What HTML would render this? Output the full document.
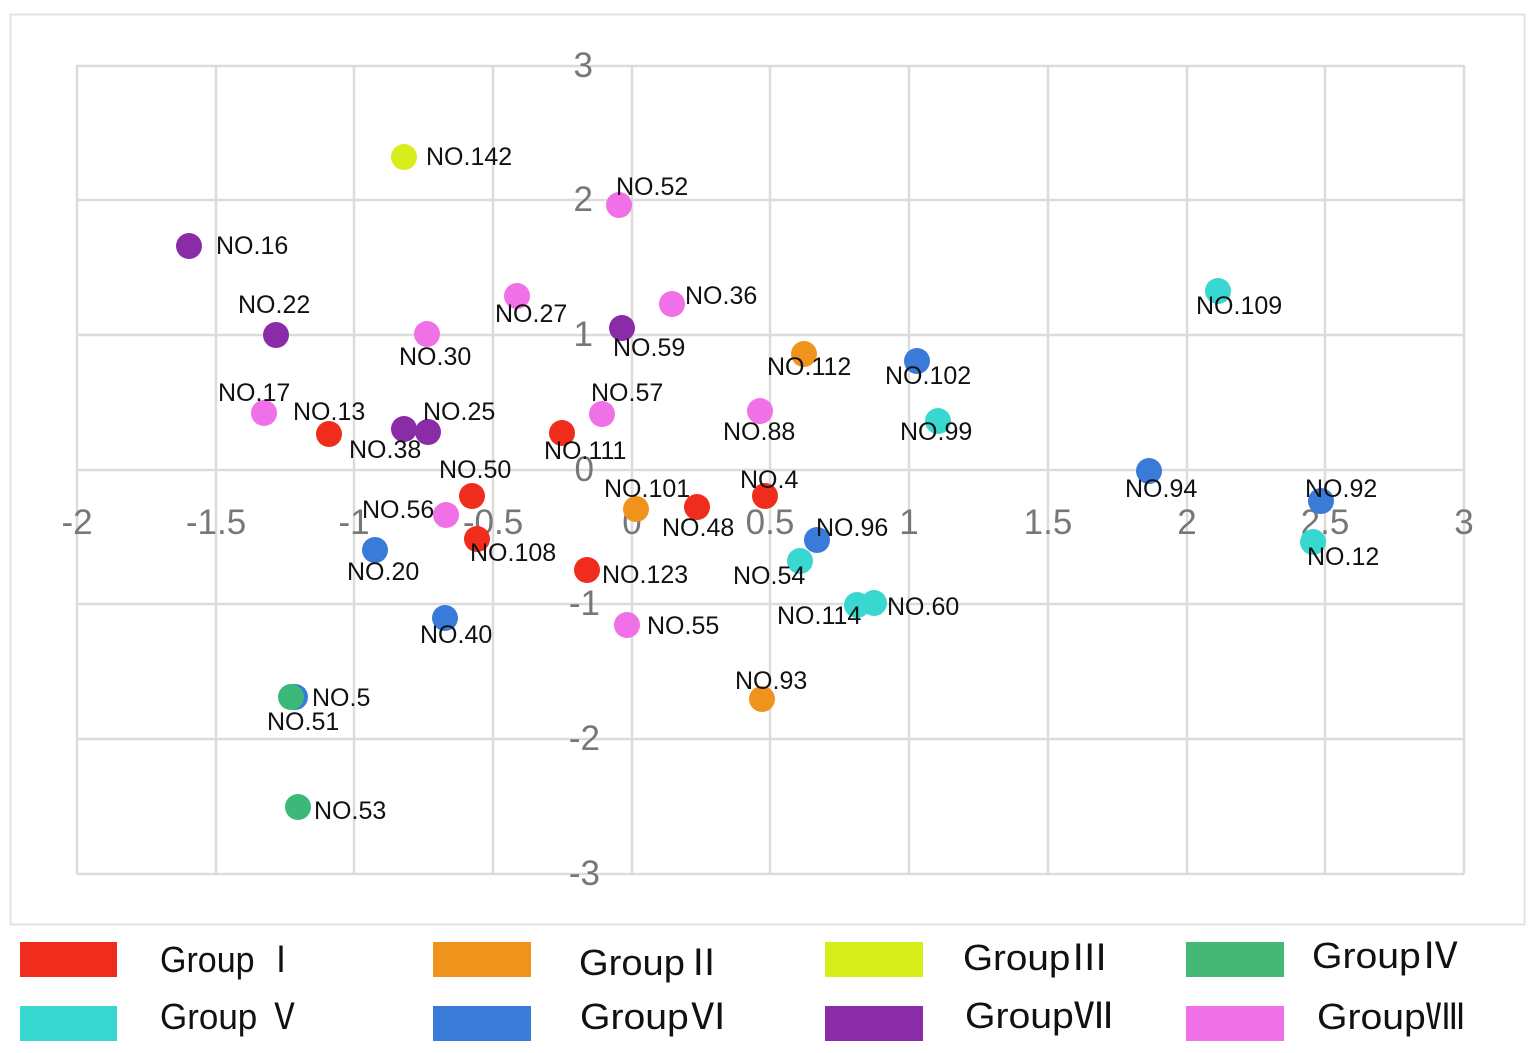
<!DOCTYPE html>
<html><head><meta charset="utf-8"><style>
html,body{margin:0;padding:0;background:#fff}
svg{display:block}
</style></head><body>
<svg width="1535" height="1053" xmlns="http://www.w3.org/2000/svg">
<rect x="10.5" y="14.5" width="1514" height="910" fill="#fff" stroke="#e2e2e2" stroke-width="2"/>
<g stroke="#dcdcdc" stroke-width="2.5">
<line x1="77" y1="65" x2="77" y2="874"/>
<line x1="216" y1="65" x2="216" y2="874"/>
<line x1="354" y1="65" x2="354" y2="874"/>
<line x1="493" y1="65" x2="493" y2="874"/>
<line x1="632" y1="65" x2="632" y2="874"/>
<line x1="770" y1="65" x2="770" y2="874"/>
<line x1="909" y1="65" x2="909" y2="874"/>
<line x1="1048" y1="65" x2="1048" y2="874"/>
<line x1="1187" y1="65" x2="1187" y2="874"/>
<line x1="1325" y1="65" x2="1325" y2="874"/>
<line x1="1464" y1="65" x2="1464" y2="874"/>
<line x1="77" y1="66" x2="1464" y2="66"/>
<line x1="77" y1="200" x2="1464" y2="200"/>
<line x1="77" y1="335" x2="1464" y2="335"/>
<line x1="77" y1="470" x2="1464" y2="470"/>
<line x1="77" y1="604" x2="1464" y2="604"/>
<line x1="77" y1="739" x2="1464" y2="739"/>
<line x1="77" y1="874" x2="1464" y2="874"/>
</g>
<g font-family="Liberation Sans, sans-serif" font-size="35" fill="#777" text-anchor="middle">
<text x="77" y="534">-2</text><text x="216" y="534">-1.5</text><text x="354" y="534">-1</text>
<text x="493" y="534">-0.5</text><text x="632" y="534">0</text><text x="770" y="534">0.5</text>
<text x="909" y="534">1</text><text x="1048" y="534">1.5</text><text x="1187" y="534">2</text>
<text x="1325" y="534">2.5</text><text x="1464" y="534">3</text>
</g>
<g font-family="Liberation Sans, sans-serif" font-size="35" fill="#777" text-anchor="end">
<text x="593" y="77">3</text><text x="593" y="211">2</text><text x="593" y="346">1</text>
<text x="594" y="481">0</text><text x="600" y="615">-1</text><text x="600" y="750">-2</text><text x="600" y="885">-3</text>
</g>
<g>
<circle cx="404" cy="157" r="13" fill="#d8ee1a"/>
<circle cx="619" cy="205" r="13" fill="#f070e8"/>
<circle cx="189" cy="246" r="13" fill="#8a2ca8"/>
<circle cx="276" cy="335" r="13" fill="#8a2ca8"/>
<circle cx="517" cy="296" r="13" fill="#f070e8"/>
<circle cx="672" cy="304" r="13" fill="#f070e8"/>
<circle cx="427" cy="334" r="13" fill="#f070e8"/>
<circle cx="622" cy="328" r="13" fill="#8a2ca8"/>
<circle cx="1218" cy="291" r="13" fill="#38d8d0"/>
<circle cx="804" cy="354" r="13" fill="#f0931c"/>
<circle cx="917" cy="361" r="13" fill="#3a7ad8"/>
<circle cx="264" cy="413" r="13" fill="#f070e8"/>
<circle cx="329" cy="434" r="13" fill="#f02c1c"/>
<circle cx="404" cy="429" r="13" fill="#8a2ca8"/>
<circle cx="428" cy="432" r="13" fill="#8a2ca8"/>
<circle cx="562" cy="433" r="13" fill="#f02c1c"/>
<circle cx="602" cy="414" r="13" fill="#f070e8"/>
<circle cx="760" cy="411" r="13" fill="#f070e8"/>
<circle cx="938" cy="421" r="13" fill="#38d8d0"/>
<circle cx="1149" cy="471" r="13" fill="#3a7ad8"/>
<circle cx="1321" cy="501" r="13" fill="#3a7ad8"/>
<circle cx="1313" cy="542" r="13" fill="#38d8d0"/>
<circle cx="472" cy="496" r="13" fill="#f02c1c"/>
<circle cx="636" cy="509" r="13" fill="#f0931c"/>
<circle cx="765" cy="496" r="13" fill="#f02c1c"/>
<circle cx="697" cy="507" r="13" fill="#f02c1c"/>
<circle cx="817" cy="540" r="13" fill="#3a7ad8"/>
<circle cx="446" cy="515" r="13" fill="#f070e8"/>
<circle cx="477" cy="539" r="13" fill="#f02c1c"/>
<circle cx="375" cy="550" r="13" fill="#3a7ad8"/>
<circle cx="587" cy="570" r="13" fill="#f02c1c"/>
<circle cx="800" cy="561" r="13" fill="#38d8d0"/>
<circle cx="857" cy="605" r="13" fill="#38d8d0"/>
<circle cx="874" cy="603" r="13" fill="#38d8d0"/>
<circle cx="445" cy="618" r="13" fill="#3a7ad8"/>
<circle cx="627" cy="625" r="13" fill="#f070e8"/>
<circle cx="762" cy="699" r="13" fill="#f0931c"/>
<circle cx="295" cy="697" r="13" fill="#3a7ad8"/>
<circle cx="291" cy="697" r="13" fill="#3cb878"/>
<circle cx="298" cy="807" r="13" fill="#3cb878"/>
</g>
<g font-family="Liberation Sans, sans-serif" font-size="25" fill="#111">
<text x="426" y="165">NO.142</text>
<text x="616" y="195">NO.52</text>
<text x="216" y="254">NO.16</text>
<text x="238" y="313">NO.22</text>
<text x="495" y="322">NO.27</text>
<text x="685" y="304">NO.36</text>
<text x="399" y="365">NO.30</text>
<text x="613" y="356">NO.59</text>
<text x="1196" y="314">NO.109</text>
<text x="767" y="375">NO.112</text>
<text x="885" y="384">NO.102</text>
<text x="218" y="401">NO.17</text>
<text x="293" y="420">NO.13</text>
<text x="349" y="458">NO.38</text>
<text x="423" y="420">NO.25</text>
<text x="544" y="459">NO.111</text>
<text x="591" y="401">NO.57</text>
<text x="723" y="440">NO.88</text>
<text x="900" y="440">NO.99</text>
<text x="1125" y="497">NO.94</text>
<text x="1305" y="497">NO.92</text>
<text x="1307" y="565">NO.12</text>
<text x="439" y="478">NO.50</text>
<text x="604" y="497">NO.101</text>
<text x="740" y="488">NO.4</text>
<text x="662" y="536">NO.48</text>
<text x="816" y="536">NO.96</text>
<text x="362" y="518">NO.56</text>
<text x="470" y="561">NO.108</text>
<text x="347" y="580">NO.20</text>
<text x="602" y="583">NO.123</text>
<text x="733" y="584">NO.54</text>
<text x="777" y="624">NO.114</text>
<text x="887" y="615">NO.60</text>
<text x="420" y="643">NO.40</text>
<text x="647" y="634">NO.55</text>
<text x="735" y="689">NO.93</text>
<text x="312" y="706">NO.5</text>
<text x="267" y="730">NO.51</text>
<text x="314" y="819">NO.53</text>
</g>
<g>
<rect x="20" y="942" width="97" height="35" fill="#f02c1c"/>
<rect x="433" y="942" width="98" height="35" fill="#f0931c"/>
<rect x="825" y="942" width="98" height="35" fill="#d8ee1a"/>
<rect x="1186" y="942" width="98" height="35" fill="#45b877"/>
<rect x="20" y="1006" width="97" height="35" fill="#38d8d0"/>
<rect x="433" y="1006" width="98" height="35" fill="#3a7ad8"/>
<rect x="825" y="1006" width="98" height="35" fill="#8a2ca8"/>
<rect x="1186" y="1006" width="98" height="35" fill="#f070e8"/>
</g>
<g font-family="Liberation Sans, 'Noto Sans CJK SC', sans-serif" font-size="36" fill="#111">
<text x="160" y="972" textLength="138" lengthAdjust="spacingAndGlyphs">Group Ⅰ</text>
<text x="579" y="975" textLength="144" lengthAdjust="spacingAndGlyphs">GroupⅡ</text>
<text x="963" y="970" textLength="146" lengthAdjust="spacingAndGlyphs">GroupⅢ</text>
<text x="1312" y="968" textLength="148" lengthAdjust="spacingAndGlyphs">GroupⅣ</text>
<text x="160" y="1029" textLength="142" lengthAdjust="spacingAndGlyphs">Group Ⅴ</text>
<text x="580" y="1029" textLength="148" lengthAdjust="spacingAndGlyphs">GroupⅥ</text>
<text x="965" y="1028" textLength="148" lengthAdjust="spacingAndGlyphs">GroupⅦ</text>
<text x="1317" y="1029" textLength="148" lengthAdjust="spacingAndGlyphs">GroupⅧ</text>
</g>
</svg>
</body></html>
